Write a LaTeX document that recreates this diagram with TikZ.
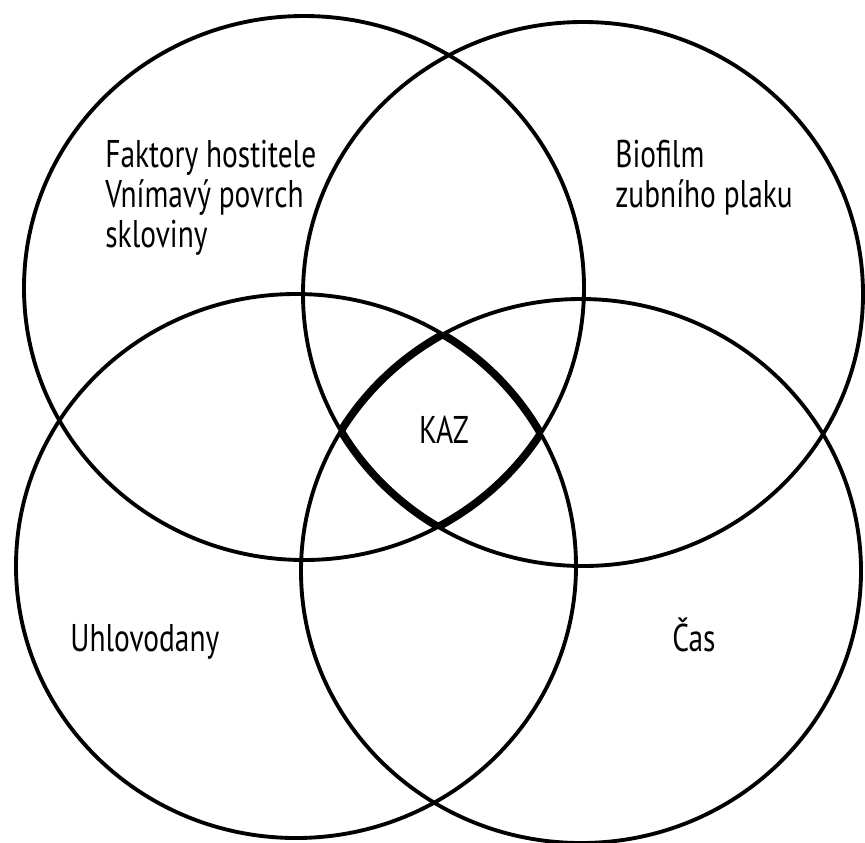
\documentclass[tikz,border=0pt]{standalone}
\usepackage{fontspec}
\setmainfont[FakeStretch=0.76]{PT Sans}
\begin{document}
\begin{tikzpicture}[x=0.02cm,y=-0.02cm,
  ring/.style={line width=2.2pt,black},
  kazline/.style={line width=4.4pt,black},
  lbl/.style={inner sep=0pt,anchor=base west,font=\fontsize{22pt}{24pt}\selectfont},
  ell/.style={x radius=280,y radius=272}]
\useasboundingbox (0,0) rectangle (865,842);
\fill[white] (0,0) rectangle (865,842);
\coordinate (cTL) at (304,288);
\coordinate (cTR) at (583,294);
\coordinate (cBL) at (296,566);
\coordinate (cBR) at (581,571);
% circles
\draw[ring] (cTL) ellipse [ell];
\draw[ring] (cTR) ellipse [ell];
\draw[ring] (cBL) ellipse [ell];
\draw[ring] (cBR) ellipse [ell];
% thick central region
\begin{scope}
  \clip (cTR) ellipse [ell]; \clip (cBL) ellipse [ell]; \clip (cBR) ellipse [ell];
  \draw[kazline] (cTL) ellipse [ell];
\end{scope}
\begin{scope}
  \clip (cTL) ellipse [ell]; \clip (cBL) ellipse [ell]; \clip (cBR) ellipse [ell];
  \draw[kazline] (cTR) ellipse [ell];
\end{scope}
\begin{scope}
  \clip (cTL) ellipse [ell]; \clip (cTR) ellipse [ell]; \clip (cBR) ellipse [ell];
  \draw[kazline] (cBL) ellipse [ell];
\end{scope}
\begin{scope}
  \clip (cTL) ellipse [ell]; \clip (cTR) ellipse [ell]; \clip (cBL) ellipse [ell];
  \draw[kazline] (cBR) ellipse [ell];
\end{scope}
% labels
\node[lbl] (fa) at (105,167) {Faktory hostitele};
\node[lbl] (vn) at (105,207) {Vnímavý povrch};
\node[lbl] (sk) at (105,247) {skloviny};
\node[lbl] (bi) at (615,167) {Biofilm};
\node[lbl] (zu) at (615,207) {zubního plaku};
\node[lbl,anchor=base] (kaz) at (444,443) {KAZ};
\node[lbl] (uh) at (70,651) {Uhlovodany};
\node[lbl] (cas) at (672,651) {Čas};
\end{tikzpicture}
\end{document}
